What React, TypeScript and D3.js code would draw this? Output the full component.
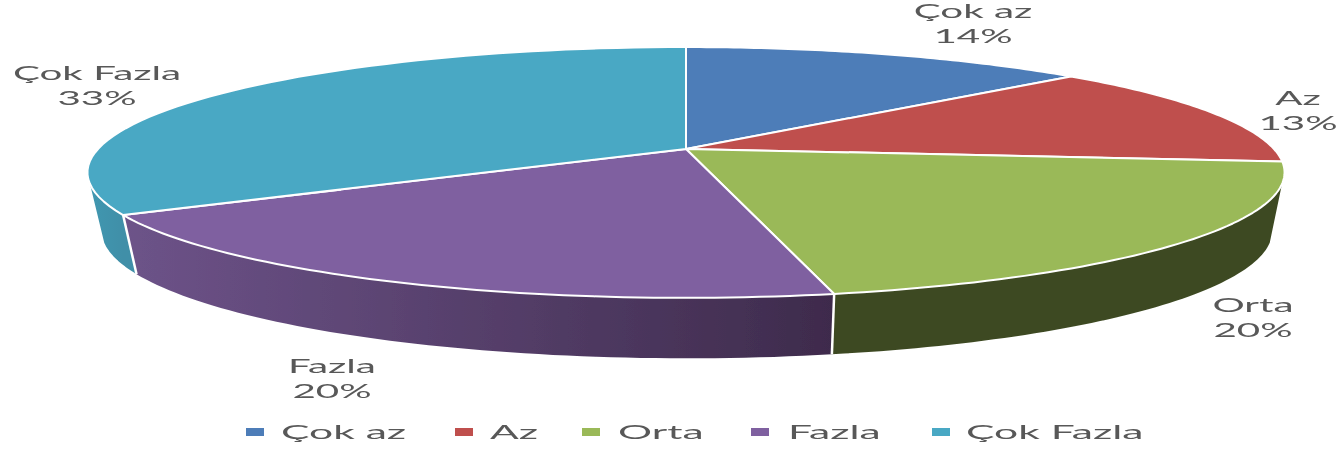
import React from "react";
import * as d3 from "d3";

const categories = ["Çok az", "Az", "Orta", "Fazla", "Çok Fazla"];
// slice shares
const shares = [13.2, 13.4, 20.1, 20.05, 33.25];
const percentLabels = ["14%", "13%", "20%", "20%", "33%"];
const topColors = ["#4d7db8", "#bf504d", "#9ab958", "#7f60a0", "#4aa8c4"];
const wallFrom = ["#3f6694", "#94403d", "#3e4a22", "#6d5389", "#3f97b0"];
const wallTo = ["#3f6694", "#94403d", "#3e4a22", "#3e2b4c", "#3f8fa8"];
const labelCenters = [[973, 18], [1298, 105], [1253, 312], [332, 373], [97, 80]];
const legendMarkerX = [246, 455, 582, 751, 932];
const legendTextX = [281, 490, 618, 788, 966];

const W = 1344;
const H = 449;
const TEXT = "#595959";
const FONT_SIZE = 20;
const LABEL_SX = 2.02;
const LEGEND_SX = 2.13;
const TILT = 0.187;
const TOP = { cx: 686, cy: 149, r: 588, k: 121 };
const BOTTOM = { cx: 687, cy: 207, r: 575, k: 123 };
const WALL_START = (106 * Math.PI) / 180;
const WALL_END = (254 * Math.PI) / 180;

type Plane = typeof TOP;
const project = (p: Plane, t: number): [number, number] => {
  const u = Math.sin(t);
  const v = -Math.cos(t);
  const w = 1 - TILT * v;
  return [p.cx + (p.r * u) / w, p.cy + (p.k * v) / w];
};
const samples = (a: number, b: number) => d3.range(0, 61).map((i) => a + ((b - a) * i) / 60);
const line = d3.line<[number, number]>();

function Label({ x, y, text, sx, anchor = "middle" }: { x: number; y: number; text: string; sx: number; anchor?: string }) {
  return (
    <text transform={`translate(${x},${y}) scale(${sx},1)`} textAnchor={anchor} fontFamily="Lato" fontSize={FONT_SIZE} fill={TEXT}>
      {text}
    </text>
  );
}

export default function App() {
  const arcs = d3.pie<number>().sort(null)(shares);
  const walls = arcs
    .map((a, i) => ({ i, a: Math.max(a.startAngle, WALL_START), b: Math.min(a.endAngle, WALL_END) }))
    .filter((s) => s.a < s.b);
  return (
    <svg width={W} height={H} viewBox={`0 0 ${W} ${H}`} style={{ position: "absolute", left: 0, top: 0, display: "block" }}>
      <defs>
        <filter id="soft" x="-5%" y="-5%" width="110%" height="110%">
          <feGaussianBlur stdDeviation="0.7" />
        </filter>
        {walls.map(({ i, a, b }) => (
          <linearGradient key={i} id={`wall${i}`} gradientUnits="userSpaceOnUse" x1={project(TOP, b)[0]} x2={project(TOP, a)[0]} y1="0" y2="0">
            <stop offset="0" stopColor={wallFrom[i]} />
            <stop offset="1" stopColor={wallTo[i]} />
          </linearGradient>
        ))}
      </defs>
      <g filter="url(#soft)">
        {walls.map(({ i, a, b }) => {
          const ts = samples(a, b);
          const pts = [...ts.map((t) => project(TOP, t)), ...ts.slice().reverse().map((t) => project(BOTTOM, t))];
          return <path key={i} d={line(pts) + "Z"} fill={`url(#wall${i})`} />;
        })}
        {walls.slice(1).map(({ i, a }) => (
          <path key={i} d={line([project(TOP, a), project(BOTTOM, a)]) as string} stroke="#fff" strokeWidth={2.5} fill="none" />
        ))}
        {arcs.map((s, i) => {
          const pts: [number, number][] = [[TOP.cx, TOP.cy], ...samples(s.startAngle, s.endAngle).map((t) => project(TOP, t))];
          return <path key={i} d={line(pts) + "Z"} fill={topColors[i]} stroke="#fff" strokeWidth={2} strokeLinejoin="round" />;
        })}
        {categories.map((c, i) => (
          <g key={c}>
            <Label x={labelCenters[i][0]} y={labelCenters[i][1]} text={c} sx={LABEL_SX} />
            <Label x={labelCenters[i][0]} y={labelCenters[i][1] + 25} text={percentLabels[i]} sx={LABEL_SX} />
            <rect x={legendMarkerX[i]} y={428} width={18} height={8} fill={topColors[i]} />
            <Label x={legendTextX[i]} y={439} text={c} sx={LEGEND_SX} anchor="start" />
          </g>
        ))}
      </g>
    </svg>
  );
}
